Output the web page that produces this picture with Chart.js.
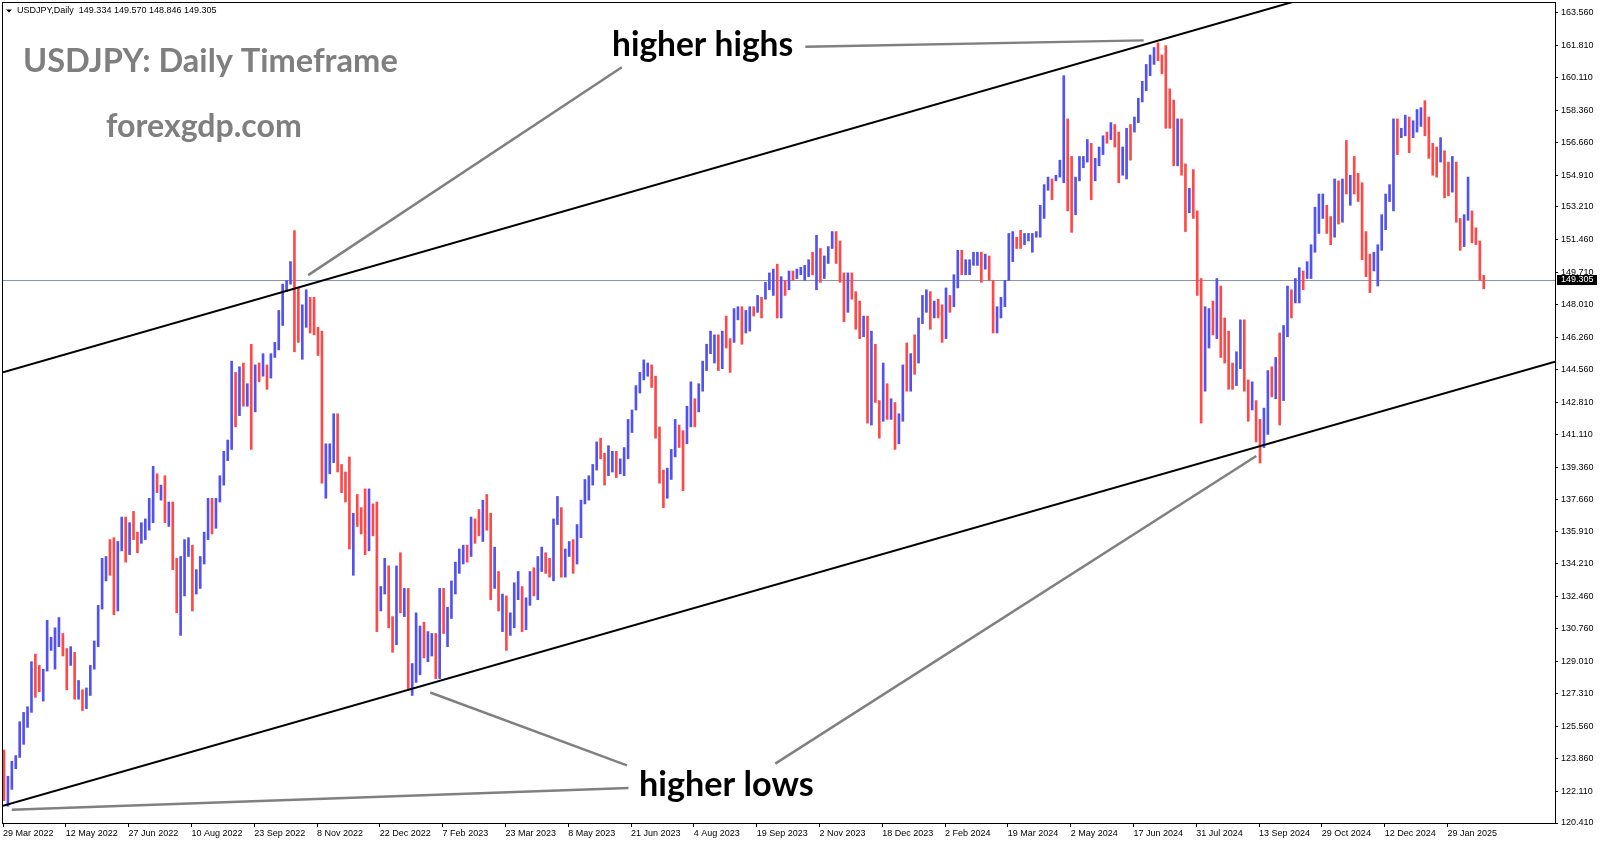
<!DOCTYPE html>
<html>
<head>
<meta charset="utf-8">
<title>USDJPY Daily</title>
<script src="https://cdn.jsdelivr.net/npm/chart.js@4.4.1/dist/chart.umd.min.js"></script>
<style>
  html, body { margin: 0; padding: 0; background: #fff; }
  #wrap { width: 1600px; height: 845px; }
</style>
</head>
<body>
<div id="wrap"><canvas id="chart" width="1600" height="845"></canvas></div>
<script>
// time axis labels and the trading-day index they sit on
const dateLabels = ['29 Mar 2022', '12 May 2022', '27 Jun 2022', '10 Aug 2022', '23 Sep 2022', '8 Nov 2022',
  '22 Dec 2022', '7 Feb 2023', '23 Mar 2023', '8 May 2023', '21 Jun 2023', '4 Aug 2023', '19 Sep 2023',
  '2 Nov 2023', '18 Dec 2023', '2 Feb 2024', '19 Mar 2024', '2 May 2024', '17 Jun 2024', '31 Jul 2024',
  '13 Sep 2024', '29 Oct 2024', '12 Dec 2024', '29 Jan 2025'];
const dateLabelIdx = [0, 32, 64, 96, 128, 160, 192, 224, 256, 288, 320, 352, 384, 416, 448, 480, 512, 544,
  576, 608, 640, 672, 704, 736];

const priceTicks = [163.56, 161.81, 160.11, 158.36, 156.66, 154.91, 153.21, 151.46, 149.71, 148.01, 146.26,
  144.56, 142.81, 141.11, 139.36, 137.66, 135.91, 134.21, 132.46, 130.76, 129.01, 127.31, 125.56, 123.86,
  122.11, 120.41];

// one bar per two trading days (bar k = days 2k, 2k+1)
const highs = [
  124.3, 122.9, 123.7, 124.0, 125.8, 126.3, 126.6, 129.0, 129.4, 128.8, 128.6, 131.2, 130.3, 130.8, 131.35, 130.5,
  129.7, 129.8, 129.5, 128.0, 127.5, 127.6, 128.8, 130.1, 132.0, 134.5, 134.6, 135.5, 135.6, 135.4, 136.7, 136.7,
  136.4, 137.0, 135.9, 136.4, 136.6, 137.7, 139.4, 139.0, 138.4, 138.9, 137.5, 137.5, 134.5, 134.6, 135.5, 135.6,
  135.2, 133.9, 134.6, 135.9, 137.7, 137.7, 137.7, 138.9, 140.2, 140.8, 145.0, 144.4, 144.7, 144.9, 143.8, 145.9,
  144.8, 144.9, 145.4, 144.8, 145.4, 146.0, 147.7, 149.1, 149.3, 150.3, 151.95, 148.9, 148.0, 148.8, 148.4, 148.4,
  146.8, 146.6, 140.6, 140.6, 142.2, 142.2, 139.5, 139.1, 139.9, 136.9, 137.9, 137.2, 138.2, 138.2, 137.4, 137.5,
  133.0, 134.5, 134.1, 131.4, 134.1, 134.8, 132.9, 132.9, 128.9, 131.6, 130.9, 131.1, 130.6, 130.5, 130.5, 132.9,
  132.9, 131.9, 133.3, 134.3, 135.0, 135.2, 135.2, 136.7, 136.6, 137.1, 137.6, 137.9, 136.9, 135.1, 133.8, 132.6,
  132.5, 131.6, 133.2, 133.8, 133.0, 132.4, 133.8, 134.0, 134.6, 135.1, 134.8, 134.5, 136.6, 137.8, 137.2, 135.0,
  135.4, 135.5, 136.3, 137.6, 138.7, 138.9, 139.5, 140.7, 140.9, 140.1, 140.5, 140.2, 140.2, 139.8, 140.4, 141.9,
  142.4, 143.7, 144.4, 145.07, 144.9, 144.8, 144.2, 141.5, 139.2, 139.3, 140.3, 141.9, 141.6, 141.3, 142.6, 143.9,
  143.0, 143.8, 145.0, 145.9, 146.6, 146.4, 146.4, 146.6, 147.4, 146.2, 147.8, 147.9, 147.9, 147.7, 147.9, 147.9,
  148.5, 148.4, 149.2, 149.7, 149.9, 150.16, 149.5, 149.3, 149.8, 149.8, 149.9, 150.0, 150.1, 150.4, 150.8, 151.7,
  151.0, 150.6, 151.1, 151.9, 151.9, 151.4, 149.7, 149.7, 149.7, 148.7, 148.2, 147.4, 147.4, 146.6, 145.9, 142.9,
  144.9, 143.8, 143.0, 142.8, 142.2, 144.8, 145.97, 145.4, 146.4, 147.3, 148.5, 148.8, 148.7, 148.2, 148.3, 148.0,
  148.9, 148.5, 149.6, 150.9, 150.9, 150.4, 150.4, 150.8, 150.8, 150.8, 150.7, 150.6, 149.3, 147.9, 148.4, 149.3,
  151.8, 151.9, 151.6, 151.97, 151.8, 151.8, 151.8, 151.9, 153.3, 154.4, 154.8, 154.7, 154.9, 155.7, 160.2, 157.9,
  155.9, 154.8, 155.9, 155.9, 156.8, 156.6, 155.8, 156.4, 157.0, 157.2, 157.7, 157.6, 157.2, 156.4, 157.4, 157.6,
  158.0, 159.0, 159.9, 160.8, 161.3, 161.7, 161.95, 161.3, 161.8, 159.5, 158.9, 157.9, 157.9, 155.5, 154.2, 155.2,
  153.0, 149.4, 147.9, 147.8, 148.2, 149.4, 149.0, 147.3, 146.6, 144.9, 145.5, 147.2, 147.2, 144.0, 143.9, 142.9,
  141.9, 142.5, 144.5, 144.7, 145.2, 146.5, 146.9, 149.0, 148.8, 149.4, 149.98, 149.8, 150.3, 151.2, 153.2, 153.9,
  153.9, 153.3, 152.7, 154.7, 154.6, 154.7, 156.75, 154.9, 155.9, 155.0, 154.5, 151.9, 150.7, 150.8, 151.2, 152.8,
  153.9, 154.4, 157.9, 157.9, 157.4, 158.1, 158.0, 157.8, 158.4, 158.5, 158.87, 158.0, 156.6, 156.4, 156.9, 156.2,
  155.6, 155.9, 155.6, 152.6, 152.8, 154.8, 153.0, 152.1, 151.4, 149.57
];
const lows = [
  121.6, 121.3, 122.2, 123.3, 123.9, 124.6, 125.5, 126.3, 127.1, 127.4, 126.9, 128.5, 129.6, 128.6, 129.8, 129.3,
  127.5, 128.8, 127.0, 127.0, 126.4, 126.5, 127.2, 128.6, 129.8, 131.8, 133.3, 133.6, 131.5, 131.7, 134.9, 134.3,
  134.7, 135.5, 134.8, 135.3, 135.5, 136.0, 136.4, 138.0, 137.6, 136.4, 136.2, 133.9, 131.6, 130.4, 132.5, 134.6,
  131.7, 132.6, 132.9, 134.2, 135.5, 135.8, 136.1, 137.5, 138.4, 139.7, 140.3, 141.5, 142.1, 142.6, 142.6, 140.3,
  142.3, 143.9, 144.2, 143.5, 144.1, 145.2, 145.6, 146.9, 148.7, 149.1, 145.5, 146.0, 145.1, 146.8, 146.5, 146.4,
  145.3, 138.5, 137.7, 139.0, 139.6, 139.1, 138.0, 137.5, 135.0, 133.6, 136.2, 135.8, 134.7, 134.9, 135.7, 130.6,
  131.7, 132.6, 130.8, 129.5, 129.9, 131.6, 131.4, 127.5, 127.2, 127.9, 128.3, 129.2, 129.0, 129.3, 128.1, 128.1,
  130.5, 129.8, 131.3, 132.6, 133.7, 134.2, 134.3, 134.6, 135.3, 135.7, 135.4, 136.0, 132.3, 132.9, 131.7, 130.6,
  129.6, 130.4, 130.8, 132.3, 130.6, 130.7, 132.0, 132.5, 132.3, 133.8, 133.7, 133.5, 133.3, 136.3, 133.5, 133.5,
  134.6, 133.7, 134.2, 135.6, 137.4, 137.6, 138.4, 139.2, 139.8, 138.4, 138.9, 139.1, 138.8, 139.0, 138.9, 139.8,
  141.2, 142.4, 143.3, 144.0, 144.2, 143.6, 140.9, 138.5, 137.2, 137.7, 138.7, 139.9, 140.4, 138.1, 140.6, 141.5,
  141.5, 142.3, 143.4, 144.5, 145.4, 144.9, 144.5, 144.6, 145.7, 144.4, 146.0, 147.2, 145.9, 146.5, 146.6, 147.4,
  147.6, 147.3, 148.3, 148.8, 148.5, 147.3, 147.3, 148.5, 148.8, 149.3, 149.4, 149.6, 149.3, 149.5, 149.6, 148.8,
  149.2, 149.4, 150.2, 151.0, 150.2, 149.2, 147.1, 147.6, 148.3, 146.7, 146.2, 146.3, 141.7, 141.6, 142.8, 140.9,
  141.8, 141.9, 141.9, 140.3, 140.6, 141.8, 143.4, 143.4, 144.3, 144.9, 147.0, 147.6, 146.7, 147.3, 147.3, 146.0,
  146.2, 147.6, 147.9, 148.9, 149.6, 149.6, 149.6, 150.1, 150.1, 149.2, 149.9, 149.3, 146.5, 146.5, 147.3, 147.9,
  149.3, 150.3, 151.0, 151.0, 151.2, 151.4, 150.8, 151.6, 151.6, 152.6, 154.1, 153.6, 154.6, 154.8, 154.5, 153.0,
  151.86, 152.8, 154.6, 155.3, 155.6, 153.6, 154.6, 155.4, 156.0, 156.6, 156.8, 156.4, 154.5, 154.9, 154.7, 155.7,
  157.2, 157.7, 158.8, 159.4, 160.2, 160.8, 161.0, 160.3, 157.4, 157.4, 155.4, 155.4, 154.9, 151.9, 152.9, 152.6,
  148.5, 141.7, 143.4, 145.7, 146.4, 146.2, 145.2, 144.9, 143.5, 143.5, 143.7, 144.6, 143.4, 141.8, 142.4, 140.7,
  139.58, 140.4, 141.1, 143.1, 143.0, 141.6, 142.9, 146.3, 147.3, 148.1, 148.1, 148.8, 149.4, 149.4, 150.8, 151.8,
  152.6, 151.8, 151.2, 151.6, 152.3, 152.4, 153.9, 153.3, 153.9, 153.5, 150.4, 149.5, 148.65, 149.8, 149.0, 150.9,
  152.0, 153.5, 153.0, 156.0, 156.9, 157.0, 156.1, 156.9, 157.2, 157.5, 157.0, 155.8, 154.9, 154.8, 155.6, 153.7,
  153.8, 154.0, 152.4, 150.9, 151.1, 152.5, 151.3, 151.2, 149.3, 148.85
];
const closes = [
  121.8, 122.5, 123.6, 123.9, 125.4, 125.6, 126.4, 128.9, 128.4, 128.1, 128.4, 129.7, 130.1, 130.2, 130.3, 129.9,
  129.2, 129.4, 127.8, 127.9, 127.1, 127.2, 128.7, 129.9, 131.9, 134.2, 134.4, 134.3, 133.2, 135.0, 136.2, 135.2,
  136.2, 135.7, 135.6, 136.0, 136.2, 136.8, 138.9, 138.2, 138.3, 136.7, 136.9, 134.3, 131.6, 133.9, 135.0, 135.1,
  133.0, 133.3, 134.3, 135.9, 137.5, 136.9, 137.5, 138.7, 140.2, 140.4, 144.2, 142.6, 144.6, 143.0, 143.6, 142.4,
  144.7, 144.1, 144.7, 144.1, 145.3, 145.9, 147.2, 148.9, 149.2, 150.1, 148.9, 146.4, 147.6, 148.2, 148.1, 146.6,
  146.4, 138.8, 139.3, 140.2, 142.1, 139.5, 138.3, 138.1, 135.3, 136.8, 136.7, 136.6, 135.5, 137.8, 136.9, 132.4,
  132.8, 134.4, 131.1, 130.9, 134.0, 131.9, 132.4, 127.9, 128.2, 128.4, 130.7, 129.6, 129.8, 130.1, 128.7, 132.6,
  131.3, 131.4, 132.9, 133.9, 134.3, 134.9, 134.7, 136.4, 136.2, 135.9, 137.2, 136.2, 133.2, 134.2, 131.8, 132.2,
  130.7, 130.9, 132.7, 133.3, 131.3, 132.2, 133.6, 133.2, 134.5, 134.7, 134.1, 133.7, 136.3, 137.4, 134.2, 134.8,
  135.2, 134.5, 136.0, 137.4, 137.9, 138.6, 139.4, 140.6, 140.5, 138.8, 139.6, 139.7, 139.3, 139.4, 140.1, 141.8,
  142.1, 143.5, 144.3, 144.4, 144.6, 144.1, 141.3, 138.6, 138.0, 139.2, 140.1, 141.5, 140.9, 138.8, 142.3, 142.6,
  141.8, 143.7, 144.9, 145.6, 145.8, 146.2, 144.8, 146.4, 145.9, 144.9, 147.6, 147.7, 146.5, 147.3, 147.8, 147.6,
  148.3, 148.2, 149.1, 149.4, 149.6, 149.0, 149.3, 148.7, 149.7, 149.5, 149.8, 149.9, 150.0, 150.2, 149.7, 151.6,
  149.4, 150.4, 151.0, 151.7, 150.5, 149.6, 148.4, 149.5, 148.5, 147.2, 146.8, 147.1, 144.2, 145.6, 143.0, 142.2,
  143.6, 142.4, 142.5, 141.0, 141.8, 144.6, 144.3, 145.2, 144.9, 147.2, 148.1, 148.2, 147.5, 148.1, 147.6, 146.4,
  148.6, 148.2, 149.3, 150.7, 150.0, 150.1, 150.2, 150.5, 150.6, 150.0, 150.5, 149.3, 147.0, 147.7, 148.3, 149.1,
  151.5, 151.6, 151.5, 151.3, 151.5, 151.6, 151.7, 151.8, 153.2, 154.3, 154.6, 154.5, 154.8, 155.6, 156.8, 155.6,
  153.0, 154.7, 155.5, 155.8, 156.4, 153.9, 155.6, 156.2, 156.9, 156.8, 157.6, 157.2, 154.8, 155.6, 157.1, 157.0,
  157.8, 158.9, 159.6, 160.7, 161.1, 161.5, 161.1, 160.8, 158.9, 157.9, 156.2, 157.4, 155.6, 153.9, 154.0, 152.7,
  149.9, 144.2, 146.7, 147.1, 146.9, 149.2, 147.6, 145.3, 144.4, 144.0, 145.1, 146.9, 143.7, 142.3, 143.3, 141.8,
  140.6, 142.3, 143.9, 143.2, 144.8, 142.2, 146.5, 148.7, 148.2, 148.6, 149.7, 149.3, 149.5, 151.1, 151.8, 153.2,
  153.4, 152.0, 151.6, 154.5, 152.6, 154.6, 154.3, 154.7, 154.6, 154.2, 151.1, 149.8, 149.6, 150.5, 151.0, 152.4,
  153.6, 153.9, 157.4, 157.1, 157.2, 157.8, 157.2, 157.3, 158.0, 158.1, 157.6, 156.5, 156.3, 155.6, 156.1, 155.5,
  154.2, 155.5, 152.6, 151.3, 152.5, 153.7, 151.5, 151.3, 149.6, 149.31
];

const quote = 'USDJPY,Daily  149.334 149.570 148.846 149.305';
const lastPrice = 149.305;

// trendlines as [barIndex, price] pairs
const channelTop = [[0, 144.41], [498, 159.35]];
const channelBottom = [[0, 121.33], [498, 136.22]];
const pointerLines = [
  [[155.5, 149.58], [315.3, 160.65]],
  [[408.8, 161.74], [581.2, 162.08]],
  [[217.7, 127.36], [317.9, 123.48]],
  [[4.5, 121.12], [318.7, 122.27]],
  [[393.5, 123.57], [638.6, 139.95]]
];

const UP = '#5252f0';
const DOWN = '#ff4848';

const bars = highs.map((h, k) => ({ x: 2 * k + 0.5, y: [lows[k], h] }));
const barColors = closes.map((c, k) => (k === 0 || c < closes[k - 1]) ? DOWN : UP);

function fitText(ctx, text, left, baseline, width, color) {
  ctx.font = 'bold 100px Lato';
  const size = 100 * width / ctx.measureText(text).width;
  ctx.font = 'bold ' + size.toFixed(1) + 'px Lato';
  ctx.fillStyle = color;
  ctx.textAlign = 'left';
  ctx.textBaseline = 'alphabetic';
  ctx.fillText(text, left, baseline);
}

const overlay = {
  id: 'overlay',
  beforeDatasetsDraw(chart) {
    const { ctx, chartArea: a, scales: { y } } = chart;
    const py = Math.round(y.getPixelForValue(lastPrice)) + 0.5;
    ctx.save();
    ctx.strokeStyle = '#8a96aa';
    ctx.lineWidth = 1;
    ctx.beginPath();
    ctx.moveTo(a.left, py);
    ctx.lineTo(a.right, py);
    ctx.stroke();
    ctx.restore();
  },
  afterDatasetsDraw(chart) {
    const { ctx, chartArea: a, scales: { x, y } } = chart;
    ctx.save();
    ctx.beginPath();
    ctx.rect(a.left, a.top, a.right - a.left, a.bottom - a.top);
    ctx.clip();

    // channel, extended as rays to the right edge
    ctx.strokeStyle = '#000';
    ctx.lineWidth = 2;
    [channelTop, channelBottom].forEach(([p0, p1]) => {
      const slope = (p1[1] - p0[1]) / (p1[0] - p0[0]);
      const xEnd = x.max;
      ctx.beginPath();
      ctx.moveTo(x.getPixelForValue(p0[0]), y.getPixelForValue(p0[1]));
      ctx.lineTo(x.getPixelForValue(xEnd), y.getPixelForValue(p0[1] + slope * (xEnd - p0[0])));
      ctx.stroke();
    });

    ctx.strokeStyle = '#808080';
    ctx.lineWidth = 2.5;
    pointerLines.forEach(([p0, p1]) => {
      ctx.beginPath();
      ctx.moveTo(x.getPixelForValue(p0[0]), y.getPixelForValue(p0[1]));
      ctx.lineTo(x.getPixelForValue(p1[0]), y.getPixelForValue(p1[1]));
      ctx.stroke();
    });
    ctx.restore();
  },
  afterDraw(chart) {
    const { ctx, chartArea: a, scales: { y } } = chart;
    ctx.save();
    // frame
    ctx.strokeStyle = '#000';
    ctx.lineWidth = 1;
    ctx.strokeRect(a.left - 0.5, a.top - 0.5, a.right - a.left + 1, a.bottom - a.top + 1);

    // last price tag on the price scale
    const py = y.getPixelForValue(lastPrice);
    ctx.fillStyle = '#000';
    ctx.fillRect(a.right + 2, Math.round(py) - 5, 40, 10);
    ctx.fillStyle = '#fff';
    ctx.font = '9px "Liberation Sans"';
    ctx.textAlign = 'left';
    ctx.textBaseline = 'middle';
    ctx.fillText(lastPrice.toFixed(3), a.right + 6, Math.round(py));

    // header
    ctx.fillStyle = '#000';
    ctx.beginPath();
    ctx.moveTo(6, 9.5);
    ctx.lineTo(12, 9.5);
    ctx.lineTo(9, 12.5);
    ctx.closePath();
    ctx.fill();
    ctx.fillText(quote, 17, 11);

    fitText(ctx, 'USDJPY: Daily Timeframe', 23, 72, 375, '#7f7f7f');
    fitText(ctx, 'forexgdp.com', 106, 137, 196, '#7f7f7f');
    fitText(ctx, 'higher highs', 612, 56, 181, '#000');
    fitText(ctx, 'higher lows', 639, 796, 175, '#000');
    ctx.restore();
  }
};

const tickFont = { family: 'Liberation Sans', size: 9 };

new Chart(document.getElementById('chart'), {
  type: 'bar',
  data: {
    datasets: [{
      data: bars,
      backgroundColor: barColors,
      borderWidth: 0,
      barThickness: 2
    }]
  },
  options: {
    responsive: false,
    animation: false,
    devicePixelRatio: 1,
    layout: { padding: { left: 3, top: 3, right: 0, bottom: 0 } },
    plugins: { legend: { display: false }, tooltip: { enabled: false } },
    scales: {
      x: {
        type: 'linear',
        offset: false,
        min: 0,
        max: 790.8,
        grid: { display: true, drawOnChartArea: false, drawTicks: true, tickLength: 4, color: '#000', offset: false },
        border: { display: true, color: '#000' },
        ticks: {
          font: tickFont,
          color: '#000',
          align: 'start',
          padding: 1,
          maxRotation: 0,
          autoSkip: false,
          callback: (v) => {
            const i = dateLabelIdx.indexOf(v);
            return i >= 0 ? dateLabels[i] : '';
          }
        },
        afterBuildTicks: (axis) => { axis.ticks = dateLabelIdx.map(v => ({ value: v })); },
        afterFit: (axis) => { axis.height = 22; axis.paddingLeft = 0; axis.paddingRight = 0; }
      },
      y: {
        type: 'linear',
        position: 'right',
        min: 120.41,
        max: 164.07,
        grid: { display: true, drawOnChartArea: false, drawTicks: true, tickLength: 3, color: '#000' },
        border: { display: true, color: '#000' },
        ticks: {
          font: tickFont,
          color: '#000',
          padding: 3,
          autoSkip: false,
          callback: (v) => v.toFixed(3)
        },
        afterBuildTicks: (axis) => { axis.ticks = priceTicks.map(v => ({ value: v })); },
        afterFit: (axis) => { axis.width = 45; axis.paddingTop = 0; axis.paddingBottom = 0; }
      }
    }
  },
  plugins: [overlay]
});
</script>
</body>
</html>
